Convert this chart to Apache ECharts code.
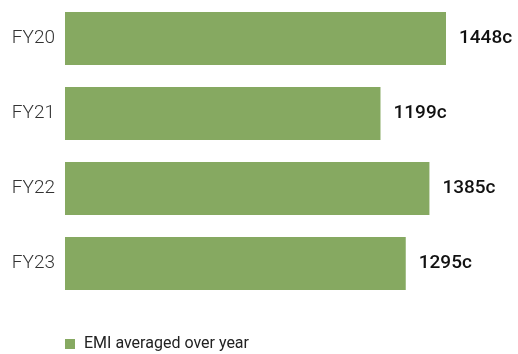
<!DOCTYPE html>
<html>
<head>
<meta charset="utf-8">
<script src="https://cdn.jsdelivr.net/npm/echarts@6/dist/echarts.min.js"></script>
<style>html,body{margin:0;padding:0;background:#fff}#c{width:518px;height:354px}</style>
</head>
<body>
<div id="c"></div>
<script>
var categories = ['FY20', 'FY21', 'FY22', 'FY23'];
var emiValues = [1448, 1199, 1385, 1295];
var seriesName = 'EMI averaged over year';

var chart = echarts.init(document.getElementById('c'), null, {renderer: 'canvas'});
chart.setOption({
  animation: false,
  grid: {left: 65, top: 1, height: 300, right: 32},
  legend: {
    left: 60, top: 331,
    itemWidth: 10, itemHeight: 10, itemGap: 10,
    icon: 'rect',
    textStyle: {fontFamily: 'Roboto', fontSize: 16, color: '#222', padding: [0, 0, 0, 4]},
    data: [seriesName]
  },
  xAxis: {
    type: 'value', min: 0, max: 1600,
    show: false
  },
  yAxis: {
    type: 'category', data: categories, inverse: true,
    axisLine: {show: false}, axisTick: {show: false}, splitLine: {show: false},
    axisLabel: {fontFamily: 'Roboto', fontSize: 19, fontWeight: 300, color: '#333', margin: 10}
  },
  series: [{
    name: seriesName,
    type: 'bar',
    data: emiValues,
    barWidth: 53,
    itemStyle: {color: '#86a961'},
    label: {
      show: true, position: 'right', distance: 13,
      fontFamily: 'Roboto', fontSize: 19, fontWeight: 500, color: '#111',
      formatter: function (p) { return p.value + 'c'; }
    }
  }]
});
</script>
</body>
</html>
